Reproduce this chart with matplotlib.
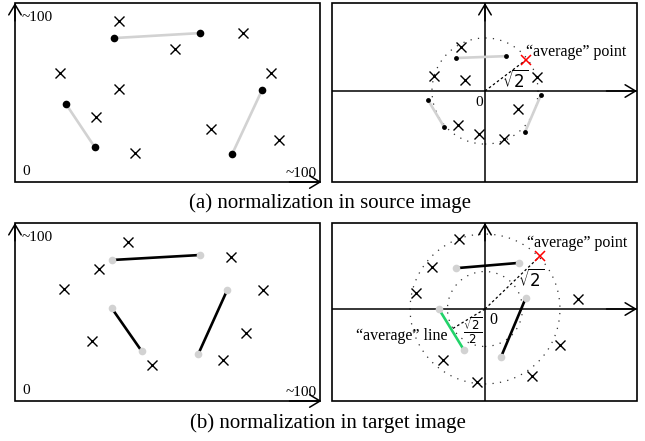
import numpy as np
import matplotlib
matplotlib.use("Agg")
import matplotlib.pyplot as plt
from matplotlib.patches import Circle, Rectangle

plt.rcParams['font.family'] = ['Liberation Serif', 'DejaVu Serif']
plt.rcParams['mathtext.fontset'] = 'dejavusans'

# ---------------- data ----------------
# (a) source image, raw coordinates (0..100)
src_cross_x = [34.0, 74.8, 52.6, 14.7, 34.0, 84.0, 26.5, 64.4, 86.6, 39.2]
src_cross_y = [89.9, 83.2, 74.3, 60.9, 52.0, 60.9, 36.3, 29.6, 23.5, 16.2]
src_seg_x = [[32.4, 60.8], [16.7, 26.1], [81.0, 71.2]]
src_seg_y = [[80.4, 83.2], [43.6, 19.6], [51.4, 15.6]]

# (a) source image, normalized coordinates
nsrc_cross_x = [-0.64, -1.36, -0.53, 1.39, 0.88, -0.72, -0.16, 0.51]
nsrc_cross_y = [1.17, 0.40, 0.29, 0.37, -0.48, -0.91, -1.15, -1.28]
nsrc_seg_x = [[-0.77, 0.56], [-1.52, -1.09], [1.49, 1.07]]
nsrc_seg_y = [[0.88, 0.93], [-0.24, -0.96], [-0.11, -1.09]]
nsrc_avg_point = (1.08, 0.82)

# (b) target image, raw coordinates (0..100)
tgt_cross_x = [36.9, 70.9, 27.5, 16.0, 81.4, 75.8, 25.2, 68.3, 44.8]
tgt_cross_y = [89.3, 80.9, 74.2, 62.9, 62.4, 38.2, 33.7, 23.0, 20.2]
tgt_seg_x = [[31.7, 60.5], [31.7, 41.5], [69.6, 60.1]]
tgt_seg_y = [[79.2, 82.0], [52.2, 28.1], [62.4, 26.4]]

# (b) target image, normalized coordinates
ntgt_cross_x = [-0.49, -1.00, -1.30, 1.75, 1.42, -0.79, -0.15, 0.89]
ntgt_cross_y = [1.32, 0.79, 0.30, 0.19, -0.68, -0.96, -1.38, -1.26]
ntgt_seg_x = [[-0.55, 0.64], [-0.87, -0.40], [0.77, 0.30]]
ntgt_seg_y = [[0.77, 0.87], [0.00, -0.77], [0.21, -0.91]]
ntgt_avg_point = (1.04, 1.00)
avg_line_index = 1

captions = ["(a) normalization in source image", "(b) normalization in target image"]

# ---------------- figure ----------------
W, H = 645, 441
fig = plt.figure(figsize=(W / 100, H / 100), dpi=100)


def add_ax(x0, y0, x1, y1):
    # pixel box (top-left origin) -> figure fraction
    return fig.add_axes([x0 / W, 1 - y1 / H, (x1 - x0) / W, (y1 - y0) / H])


def frame(ax):
    ax.set_axis_off()
    ax.add_patch(Rectangle((0, 0), 1, 1, transform=ax.transAxes, fill=False,
                           lw=1.2, ec='black', clip_on=False))


def arrow(ax, start, end):
    ax.annotate('', xy=end, xytext=start, xycoords='axes fraction',
                textcoords='axes fraction',
                arrowprops=dict(arrowstyle='->,head_length=0.75,head_width=0.45',
                                lw=1.1, color='black', shrinkA=0, shrinkB=0),
                annotation_clip=False)


CROSS = dict(marker='x', ms=6.5, mew=1.0, color='black', ls='none')
GRAY = '#d2d2d2'

# ---- left panels (raw coordinates) ----
for (x0, y0, x1, y1), cx, cy, sx, sy, seg_col, pt_col in [
        ((15, 3, 320, 182), src_cross_x, src_cross_y, src_seg_x, src_seg_y, GRAY, 'black'),
        ((15, 223, 320, 401), tgt_cross_x, tgt_cross_y, tgt_seg_x, tgt_seg_y, 'black', GRAY)]:
    ax = add_ax(x0, y0, x1, y1)
    ax.set_xlim(0, 100)
    ax.set_ylim(0, 100)
    frame(ax)
    arrow(ax, (0, 0.9), (0, 1.0))
    arrow(ax, (0.9, 0), (1.005, 0))
    ax.plot(cx, cy, **CROSS)
    for xs, ys in zip(sx, sy):
        ax.plot(xs, ys, color=seg_col, lw=1.9, solid_capstyle='butt', zorder=2)
        ax.plot(xs, ys, 'o', color=pt_col, ms=5.5, mew=0, zorder=3)
    ax.text(0.022, 0.92, '~100', transform=ax.transAxes, fontsize=11, ha='left', va='center')
    ax.text(0.025, 0.06, '0', transform=ax.transAxes, fontsize=11, ha='left', va='center')
    ax.text(0.99, 0.045, '~100', transform=ax.transAxes, fontsize=11, ha='right', va='center')

# ---- panel (a) right ----
ax = add_ax(332, 3, 637, 182)
u = 37.5
ax.set_xlim((332 - 485) / u, (637 - 485) / u)
ax.set_ylim((91 - 182) / u, (91 - 3) / u)
frame(ax)
ax.plot([ax.get_xlim()[0], ax.get_xlim()[1]], [0, 0], color='black', lw=1.1)
ax.plot([0, 0], [ax.get_ylim()[0], ax.get_ylim()[1]], color='black', lw=1.1)
arrow(ax, (0.9, (182 - 91) / 179), (1.0, (182 - 91) / 179))
arrow(ax, ((485 - 332) / 305, 0.9), ((485 - 332) / 305, 1.0))
ax.add_patch(Circle((0, 0), np.sqrt(2), fill=False, ls=(0, (1, 5)), lw=0.9, ec='#333333'))
ax.plot(nsrc_cross_x, nsrc_cross_y, **CROSS)
for xs, ys in zip(nsrc_seg_x, nsrc_seg_y):
    ax.plot(xs, ys, color=GRAY, lw=1.9, solid_capstyle='butt', zorder=2)
    ax.plot(xs, ys, 'o', color='black', ms=3.5, mew=0, zorder=3)
ax.plot([0, nsrc_avg_point[0]], [0, nsrc_avg_point[1]], color='black', lw=0.9, ls=(0, (2, 2)))
ax.plot(*nsrc_avg_point, marker='x', ms=6.5, mew=1.1, color='red', ls='none')
ax.text(nsrc_avg_point[0] + 0.02, nsrc_avg_point[1] + 0.22, '\u201caverage\u201d point',
        fontsize=11.5, ha='left', va='center')
ax.text(0.8, 0.28, r'$\sqrt{2}$', fontsize=12, ha='center', va='center')
ax.text(-0.15, -0.3, '0', fontsize=11, ha='center', va='center')

# ---- panel (b) right ----
ax = add_ax(332, 223, 637, 401)
u = 53.0
ax.set_xlim((332 - 485) / u, (637 - 485) / u)
ax.set_ylim((309 - 401) / u, (309 - 223) / u)
frame(ax)
ax.plot([ax.get_xlim()[0], ax.get_xlim()[1]], [0, 0], color='black', lw=1.1)
ax.plot([0, 0], [ax.get_ylim()[0], ax.get_ylim()[1]], color='black', lw=1.1)
arrow(ax, (0.9, (401 - 309) / 178), (1.0, (401 - 309) / 178))
arrow(ax, ((485 - 332) / 305, 0.9), ((485 - 332) / 305, 1.0))
ax.add_patch(Circle((0, 0), np.sqrt(2), fill=False, ls=(0, (1, 5)), lw=0.9, ec='#333333'))
ax.add_patch(Circle((0, 0), np.sqrt(2) / 2, fill=False, ls=(0, (1, 5)), lw=0.9, ec='#333333'))
ax.plot(ntgt_cross_x, ntgt_cross_y, **CROSS)
for i, (xs, ys) in enumerate(zip(ntgt_seg_x, ntgt_seg_y)):
    col = '#22d36a' if i == avg_line_index else 'black'
    ax.plot(xs, ys, color=col, lw=1.9, solid_capstyle='butt', zorder=2)
    ax.plot(xs, ys, 'o', color=GRAY, ms=5.5, mew=0, zorder=3)
mx = np.mean(ntgt_seg_x[avg_line_index])
my = np.mean(ntgt_seg_y[avg_line_index])
ax.plot([0, mx], [0, my], color='black', lw=0.9, ls=(0, (2, 2)))
ax.plot([0, ntgt_avg_point[0]], [0, ntgt_avg_point[1]], color='black', lw=0.9, ls=(0, (2, 2)))
ax.plot(*ntgt_avg_point, marker='x', ms=6.5, mew=1.1, color='red', ls='none')
ax.text(ntgt_avg_point[0] - 0.25, ntgt_avg_point[1] + 0.24, '\u201caverage\u201d point',
        fontsize=11.5, ha='left', va='center')
ax.text(0.88, 0.55, r'$\sqrt{2}$', fontsize=12, ha='center', va='center')
ax.text(-0.23, -0.4, r'$\frac{\sqrt{2}}{2}$', fontsize=12, ha='center', va='center')
ax.text(-0.7, -0.5, '\u201caverage\u201d line', fontsize=11.5, ha='right', va='center')
ax.text(0.16, -0.2, '0', fontsize=11.5, ha='center', va='center')

# ---- captions ----
fig.text(330 / W, 1 - 203 / H, captions[0], fontsize=15, ha='center', va='center')
fig.text(328 / W, 1 - 423 / H, captions[1], fontsize=15, ha='center', va='center')

fig.savefig('out.png', dpi=100)
